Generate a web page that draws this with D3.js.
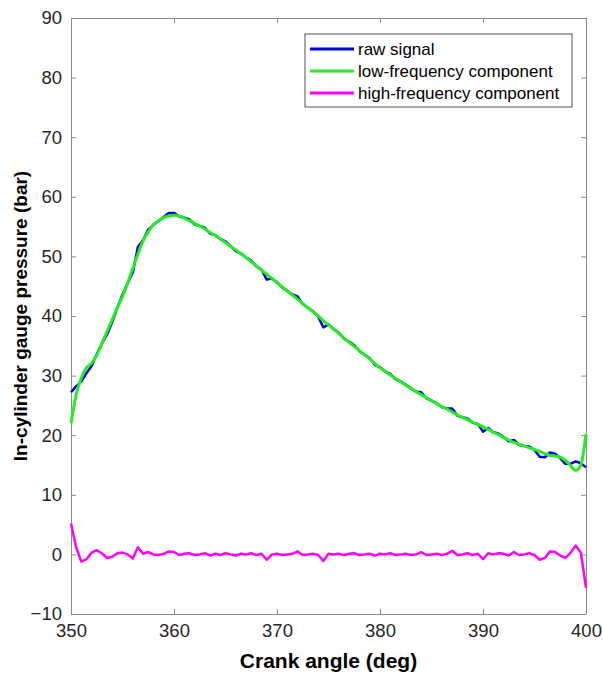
<!DOCTYPE html>
<html>
<head>
<meta charset="utf-8">
<script src="https://cdn.jsdelivr.net/npm/d3@7"></script>
<style>
  body { margin: 0; background: #fff; }
  text { font-family: "Liberation Sans", Arial, sans-serif; fill: #262626; }
  .ttl { font-weight: bold; fill: #000; }
  .leg { font-size: 17px; fill: #000; }
</style>
</head>
<body>
<svg id="chart" width="603" height="676"></svg>
<script>
// crank angle, 0.5 deg steps
var angles = d3.range(350, 400.01, 0.5);

var rawSignal = [27.2, 28.2, 29.0, 30.4, 31.6, 33.6, 35.4, 36.9, 39.0, 41.4,
  43.6, 45.5, 47.3, 51.6, 52.7, 54.5, 55.3, 55.9, 56.6, 57.3,
  57.3, 56.7, 56.5, 56.2, 55.4, 55.1, 54.8, 53.8, 53.6, 52.9,
  52.5, 51.7, 50.9, 50.5, 49.8, 49.3, 48.3, 47.8, 46.1, 46.3,
  45.7, 44.8, 44.2, 43.6, 43.3, 42.0, 41.4, 40.8, 39.9, 38.1,
  38.6, 37.8, 37.2, 36.2, 35.7, 35.1, 34.1, 33.5, 32.9, 31.8,
  31.4, 30.7, 30.3, 29.4, 29.0, 28.5, 27.8, 27.3, 27.2, 26.2,
  25.8, 25.4, 24.7, 24.5, 24.5, 23.3, 23.0, 22.8, 22.1, 21.9,
  20.6, 21.2, 20.5, 20.3, 19.7, 19.0, 19.2, 18.4, 18.2, 18.1,
  17.5, 16.4, 16.3, 17.1, 16.9, 16.1, 15.2, 15.2, 15.6, 15.3,
  14.6];

var lowFreq = [22.0, 26.8, 29.6, 31.3, 32.1, 33.4, 35.4, 37.4, 39.4, 41.4,
  43.3, 45.5, 48.0, 50.4, 52.6, 54.1, 55.3, 56.0, 56.5, 56.8,
  56.9, 56.8, 56.4, 56.0, 55.5, 55.1, 54.6, 54.0, 53.5, 53.0,
  52.3, 51.7, 51.1, 50.4, 49.8, 49.1, 48.4, 47.7, 47.0, 46.3,
  45.6, 44.9, 44.2, 43.5, 42.8, 42.1, 41.4, 40.7, 40.0, 39.2,
  38.5, 37.8, 37.1, 36.3, 35.6, 34.9, 34.2, 33.5, 32.8, 32.0,
  31.3, 30.7, 30.1, 29.5, 29.0, 28.4, 27.9, 27.3, 26.8, 26.3,
  25.8, 25.3, 24.8, 24.4, 23.9, 23.4, 23.0, 22.6, 22.2, 21.8,
  21.4, 21.0, 20.5, 20.1, 19.6, 19.2, 18.8, 18.5, 18.2, 17.9,
  17.6, 17.3, 16.9, 16.6, 16.5, 16.3, 15.8, 14.9, 14.1, 15.0,
  20.2];

var highFreq = [5.2, 1.2, -1.2, -0.8, 0.3, 0.7, 0.2, -0.6, -0.4, 0.2,
  0.3, 0.0, -0.7, 1.2, 0.1, 0.4, 0.0, -0.1, 0.1, 0.5,
  0.4, -0.1, 0.1, 0.2, -0.1, 0.0, 0.2, -0.2, 0.1, -0.1,
  0.2, 0.0, -0.2, 0.1, 0.0, 0.2, -0.1, 0.1, -0.9, 0.0,
  0.1, -0.1, 0.0, 0.1, 0.5, -0.1, 0.0, 0.1, -0.1, -1.1,
  0.1, 0.0, 0.1, -0.1, 0.1, 0.2, -0.1, 0.0, 0.1, -0.2,
  0.1, 0.0, 0.2, -0.1, 0.0, 0.1, -0.1, 0.0, 0.4, -0.1,
  0.0, 0.1, -0.1, 0.1, 0.6, -0.1, 0.0, 0.2, -0.1, 0.1,
  -0.8, 0.2, 0.0, 0.2, 0.1, -0.2, 0.4, -0.1, 0.0, 0.2,
  -0.1, -0.9, -0.6, 0.5, 0.4, -0.2, -0.6, 0.3, 1.5, 0.3,
  -5.6];

var xTicks = [350, 360, 370, 380, 390, 400];
var yTicks = [-10, 0, 10, 20, 30, 40, 50, 60, 70, 80, 90];

var seriesNames = ["raw signal", "low-frequency component", "high-frequency component"];
var seriesColors = ["#0000dd", "#22ee22", "#ff00ff"];

var svg = d3.select("#chart");
var pLeft = 71, pRight = 586, pTop = 18, pBottom = 614;

var x = d3.scaleLinear().domain([350, 400]).range([pLeft, pRight]);
var y = d3.scaleLinear().domain([-10, 90]).range([pBottom, pTop]);

// axes, matlab style: ticks inside, on all four sides
var axisColor = "#8a8a8a";
function styleAxis(g) {
  g.select(".domain").attr("stroke", axisColor);
  g.selectAll(".tick line").attr("stroke", axisColor);
}
svg.append("g").attr("transform", "translate(0," + pBottom + ")")
  .call(d3.axisBottom(x).tickValues(xTicks).tickSizeInner(-5).tickSizeOuter(0).tickPadding(10))
  .call(styleAxis);
svg.append("g").attr("transform", "translate(0," + pTop + ")")
  .call(d3.axisTop(x).tickValues(xTicks).tickSizeInner(-5).tickSizeOuter(0).tickFormat(""))
  .call(styleAxis);
svg.append("g").attr("transform", "translate(" + pLeft + ",0)")
  .call(d3.axisLeft(y).tickValues(yTicks).tickSizeInner(-5).tickSizeOuter(0).tickPadding(9))
  .call(styleAxis);
svg.append("g").attr("transform", "translate(" + pRight + ",0)")
  .call(d3.axisRight(y).tickValues(yTicks).tickSizeInner(-5).tickSizeOuter(0).tickFormat(""))
  .call(styleAxis);
svg.selectAll(".tick text").attr("fill", "#262626").attr("font-size", 18.5)
  .attr("font-family", "'Liberation Sans', Arial, sans-serif");

var line = d3.line()
  .x(function(d, i) { return x(angles[i]); })
  .y(function(d) { return y(d); });

svg.append("path").datum(rawSignal)
  .attr("fill", "none").attr("stroke", seriesColors[0]).attr("stroke-width", 2.5)
  .attr("stroke-linejoin", "round").attr("d", line);
svg.append("path").datum(lowFreq)
  .attr("fill", "none").attr("stroke", seriesColors[1]).attr("stroke-width", 3)
  .attr("stroke-linejoin", "round").attr("d", line.curve(d3.curveMonotoneX));
svg.append("path").datum(highFreq)
  .attr("fill", "none").attr("stroke", seriesColors[2]).attr("stroke-width", 2.5)
  .attr("stroke-linejoin", "round").attr("d", line.curve(d3.curveLinear));

// axis titles
svg.append("text").attr("class", "ttl")
  .attr("x", (pLeft + pRight) / 2).attr("y", 668)
  .attr("text-anchor", "middle").attr("font-size", 21)
  .text("Crank angle (deg)");
svg.append("text").attr("class", "ttl")
  .attr("transform", "translate(27," + ((pTop + pBottom) / 2) + ") rotate(-90)")
  .attr("text-anchor", "middle").attr("font-size", 19)
  .text("In-cylinder gauge pressure (bar)");

// legend
var legend = svg.append("g").attr("transform", "translate(305,34)");
legend.append("rect")
  .attr("width", 267).attr("height", 73)
  .attr("fill", "#fff").attr("stroke", "#262626").attr("stroke-width", 0.8);
var items = legend.selectAll("g.item").data(seriesNames).enter().append("g")
  .attr("class", "item")
  .attr("transform", function(d, i) { return "translate(0," + (15 + i * 22) + ")"; });
items.append("line")
  .attr("x1", 5).attr("x2", 49)
  .attr("stroke", function(d, i) { return seriesColors[i]; })
  .attr("stroke-width", 3);
items.append("text").attr("class", "leg")
  .attr("x", 53).attr("dy", "0.35em")
  .text(function(d) { return d; });
</script>
</body>
</html>
